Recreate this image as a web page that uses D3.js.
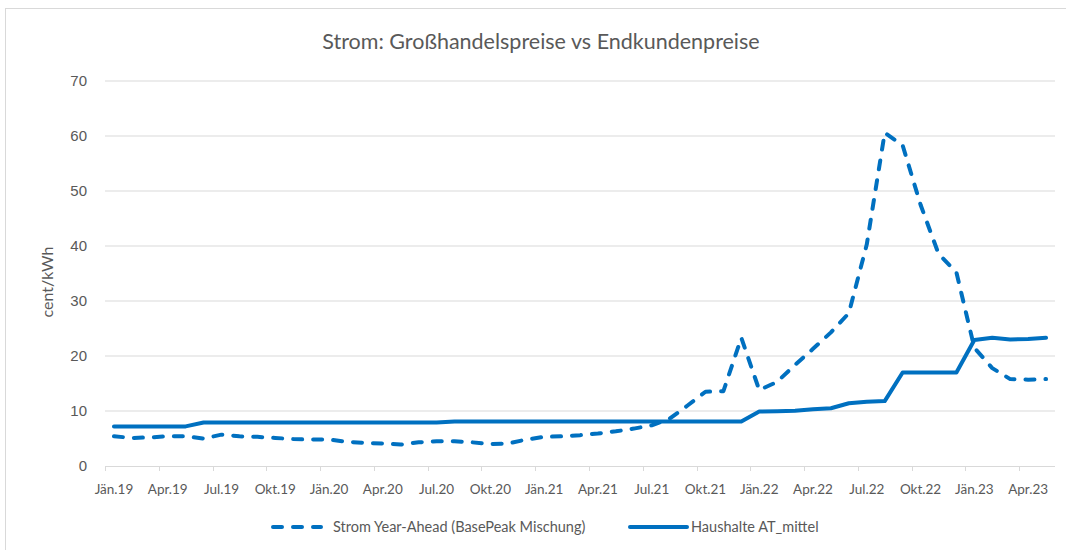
<!DOCTYPE html>
<html>
<head>
<meta charset="utf-8">
<script src="https://cdn.jsdelivr.net/npm/d3@7"></script>
<style>
  body { margin: 0; background: #fff; }
  svg { display: block; font-family: Lato, "Open Sans", sans-serif; }
</style>
</head>
<body>
<svg width="1066" height="550"></svg>
<script>
// Monate Jän.19 .. Mai.23
const months = ["Jän", "Feb", "Mär", "Apr", "Mai", "Jun", "Jul", "Aug", "Sep", "Okt", "Nov", "Dez"];
const years = ["19", "20", "21", "22", "23"];
const categories = [];
years.forEach(y => months.forEach(m => categories.push(m + "." + y)));
categories.length = 53;

const tickLabels = ["Jän.19", "Apr.19", "Jul.19", "Okt.19", "Jän.20", "Apr.20", "Jul.20", "Okt.20",
    "Jän.21", "Apr.21", "Jul.21", "Okt.21", "Jän.22", "Apr.22", "Jul.22", "Okt.22", "Jän.23", "Apr.23"];

const yearAhead = [
    5.4, 5.1, 5.2, 5.4, 5.4, 5.0, 5.7, 5.4, 5.3, 5.1, 4.9, 4.8,
    4.8, 4.4, 4.2, 4.1, 3.9, 4.3, 4.5, 4.5, 4.3, 4.0, 4.1, 4.8,
    5.3, 5.4, 5.6, 5.9, 6.3, 6.8, 7.4, 8.6, 11.0, 13.5, 13.6, 23.3,
    13.8, 15.3, 18.4, 21.3, 24.3, 27.8, 40.3, 60.6, 58.3, 47.5, 38.6, 35.2,
    21.5, 17.8, 15.8, 15.7, 15.8
];

const haushalte = [
    7.2, 7.2, 7.2, 7.2, 7.2, 7.9, 7.9, 7.9, 7.9, 7.9, 7.9, 7.9,
    7.9, 7.9, 7.9, 7.9, 7.9, 7.9, 7.9, 8.1, 8.1, 8.1, 8.1, 8.1,
    8.1, 8.1, 8.1, 8.1, 8.1, 8.1, 8.1, 8.1, 8.1, 8.1, 8.1, 8.1,
    9.9, 9.95, 10.05, 10.3, 10.5, 11.4, 11.7, 11.8, 17.0, 17.0, 17.0, 17.0,
    22.9, 23.3, 23.0, 23.1, 23.3
];

const yTicks = [0, 10, 20, 30, 40, 50, 60, 70];

const seriesNames = ["Strom Year-Ahead (BasePeak Mischung)", "Haushalte AT_mittel"];

const blue = "#0070C0";
const grid = "#d9d9d9";
const textCol = "#595959";

const svg = d3.select("svg");

// Rahmen (nur oben/links sichtbar)
svg.append("rect")
    .attr("x", 5.5).attr("y", 8.5)
    .attr("width", 1100).attr("height", 600)
    .attr("fill", "none")
    .attr("stroke", "#d9d9d9");

const margin = { left: 105, right: 1055, top: 81, bottom: 466 };

const x = d3.scaleBand()
    .domain(categories)
    .range([margin.left, margin.right]);
const y = d3.scaleLinear()
    .domain([0, 70])
    .range([margin.bottom, margin.top]);

// Gitternetz
svg.append("g")
    .selectAll("line")
    .data(yTicks.filter(d => d > 0))
    .join("line")
    .attr("x1", margin.left).attr("x2", margin.right)
    .attr("y1", d => y(d)).attr("y2", d => y(d))
    .attr("stroke", grid).attr("stroke-width", 1);

// y-Achse
const yAxis = svg.append("g")
    .attr("transform", `translate(${margin.left},0)`)
    .call(d3.axisLeft(y).tickValues(yTicks).tickSize(0).tickPadding(18));
yAxis.select(".domain").remove();
yAxis.selectAll("text")
    .attr("fill", textCol)
    .style("font-size", "15px");

// x-Achse
const xAxis = svg.append("g")
    .attr("transform", `translate(0,${margin.bottom})`);
xAxis.append("line")
    .attr("x1", margin.left).attr("x2", margin.right)
    .attr("y1", 0.5).attr("y2", 0.5)
    .attr("stroke", grid);
xAxis.selectAll(".tick")
    .data(categories.filter((d, i) => i % 3 === 0))
    .join("line")
    .attr("class", "tick")
    .attr("x1", d => Math.round(x(d)) + 0.5)
    .attr("x2", d => Math.round(x(d)) + 0.5)
    .attr("y1", 0).attr("y2", 5)
    .attr("stroke", grid);
xAxis.selectAll(".lbl")
    .data(tickLabels)
    .join("text")
    .attr("class", "lbl")
    .attr("x", (d, i) => x(categories[i * 3]) + x.bandwidth() / 2)
    .attr("y", 28)
    .attr("text-anchor", "middle")
    .attr("fill", textCol)
    .style("font-size", "13.5px")
    .text(d => d);

// Achsentitel
svg.append("text")
    .attr("transform", `translate(53,282) rotate(-90)`)
    .attr("text-anchor", "middle")
    .attr("fill", textCol)
    .style("font-size", "16px")
    .text("cent/kWh");

// Titel
svg.append("text")
    .attr("x", 541).attr("y", 49)
    .attr("text-anchor", "middle")
    .attr("fill", textCol)
    .style("font-size", "21.5px")
    .text("Strom: Großhandelspreise vs Endkundenpreise");

// Linien
const line = d3.line()
    .x((d, i) => x(categories[i]) + x.bandwidth() / 2)
    .y(d => y(d));

svg.append("path")
    .datum(haushalte)
    .attr("d", line)
    .attr("fill", "none")
    .attr("stroke", blue)
    .attr("stroke-width", 4)
    .attr("stroke-linejoin", "round")
    .attr("stroke-linecap", "round");

svg.append("path")
    .datum(yearAhead)
    .attr("d", line)
    .attr("fill", "none")
    .attr("stroke", blue)
    .attr("stroke-width", 4)
    .attr("stroke-dasharray", "9,11")
    .attr("stroke-linejoin", "round")
    .attr("stroke-linecap", "round");

// Legende
const legend = svg.append("g").attr("transform", "translate(0,527)");
legend.append("line")
    .attr("x1", 273).attr("x2", 321)
    .attr("stroke", blue).attr("stroke-width", 4)
    .attr("stroke-dasharray", "9,11").attr("stroke-linecap", "round");
legend.append("text")
    .attr("x", 333).attr("y", 5)
    .attr("fill", textCol)
    .style("font-size", "14.5px")
    .text(seriesNames[0]);
legend.append("line")
    .attr("x1", 630).attr("x2", 687)
    .attr("stroke", blue).attr("stroke-width", 4)
    .attr("stroke-linecap", "round");
legend.append("text")
    .attr("x", 691).attr("y", 5)
    .attr("fill", textCol)
    .style("font-size", "14.5px")
    .text(seriesNames[1]);
</script>
</body>
</html>
